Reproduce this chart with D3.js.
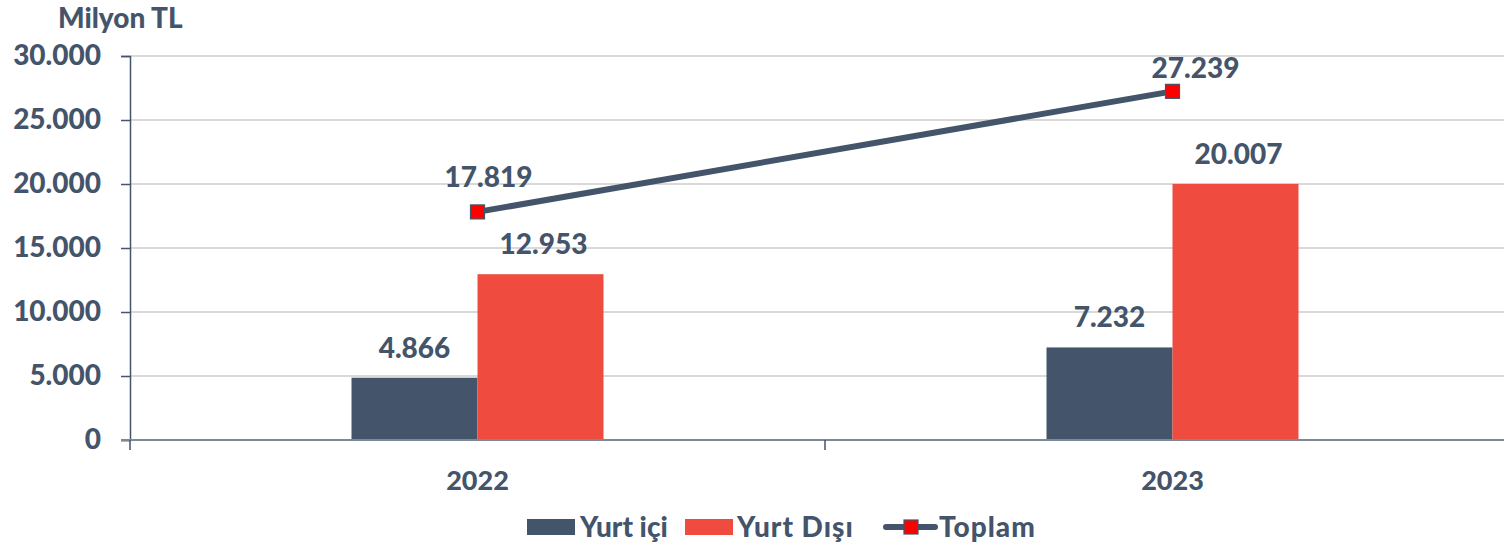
<!DOCTYPE html>
<html>
<head>
<meta charset="utf-8">
<script src="https://cdn.jsdelivr.net/npm/d3@7"></script>
<style>
  body { margin: 0; background: #fff; overflow: hidden; }
  svg text { font-family: Lato, "Open Sans", sans-serif; font-weight: 900; fill: #44546a; }
</style>
</head>
<body>
<div id="chart"></div>
<script>
// chart values
const years = ["2022", "2023"];
const yurtIci = [4866, 7232];
const yurtDisi = [12953, 20007];
const toplam = [17819, 27239];
const yTicks = [0, 5000, 10000, 15000, 20000, 25000, 30000];

const width = 1504, height = 549;
const margin = { top: 56, right: -16, bottom: 109, left: 130 };
const darkColor = "#44546a";
const redColor = "#ef4b3f";
// label nudges for the total line (Excel moved the top one to stay inside)
const totalLabelDx = [11, 23];
const totalLabelDy = [-25, -13];

const fmt = d => d === 0 ? "0" : d3.format(",")(d).replace(/,/g, ".");

const svg = d3.select("#chart")
    .append("svg")
    .attr("width", width)
    .attr("height", height);

const x = d3.scaleBand()
    .domain(years)
    .range([margin.left, width - margin.right]);

const bx = d3.scaleBand()
    .domain(["ici", "disi"])
    .range([0, x.bandwidth()])
    .paddingOuter(1.758);

const y = d3.scaleLinear()
    .domain([0, 30000])
    .range([height - margin.bottom, margin.top]);

// gridlines
svg.append("g")
    .selectAll("line")
    .data(yTicks.filter(d => d > 0))
    .enter().append("line")
    .attr("x1", margin.left)
    .attr("x2", width)
    .attr("y1", d => y(d))
    .attr("y2", d => y(d))
    .attr("stroke", "#d9d9d9")
    .attr("stroke-width", 2);

// y axis
const yAxis = svg.append("g")
    .attr("transform", `translate(${margin.left},0)`)
    .call(d3.axisLeft(y).tickValues(yTicks).tickFormat(fmt).tickSize(9).tickPadding(20));
yAxis.select(".domain").attr("stroke", darkColor).attr("stroke-width", 1.5);
yAxis.selectAll(".tick line").attr("stroke", darkColor).attr("stroke-width", 1.5);
yAxis.selectAll("text").style("font-size", "28px").attr("fill", darkColor);

// bars
const groups = svg.append("g")
    .selectAll("g")
    .data(years)
    .enter().append("g")
    .attr("transform", d => `translate(${x(d)},0)`);

groups.append("rect")
    .attr("x", bx("ici"))
    .attr("width", bx.bandwidth())
    .attr("y", (d, i) => y(yurtIci[i]))
    .attr("height", (d, i) => y(0) - y(yurtIci[i]))
    .attr("fill", darkColor);

groups.append("rect")
    .attr("x", bx("disi"))
    .attr("width", bx.bandwidth())
    .attr("y", (d, i) => y(yurtDisi[i]))
    .attr("height", (d, i) => y(0) - y(yurtDisi[i]))
    .attr("fill", redColor);

groups.append("text")
    .attr("x", bx("ici") + bx.bandwidth() / 2)
    .attr("y", (d, i) => y(yurtIci[i]) - 20)
    .attr("text-anchor", "middle")
    .style("font-size", "28px")
    .text((d, i) => fmt(yurtIci[i]));

groups.append("text")
    .attr("x", bx("disi") + bx.bandwidth() / 2 + 3)
    .attr("y", (d, i) => y(yurtDisi[i]) - 20)
    .attr("text-anchor", "middle")
    .style("font-size", "28px")
    .text((d, i) => fmt(yurtDisi[i]));

// x axis
const xAxis = svg.append("g")
    .attr("transform", `translate(0,${y(0)})`);
xAxis.append("line")
    .attr("x1", margin.left - 9)
    .attr("x2", width)
    .attr("stroke", "#7f8895")
    .attr("stroke-width", 2);
xAxis.selectAll(".sep")
    .data([margin.left, x.range()[0] + x.bandwidth()])
    .enter().append("line")
    .attr("x1", d => d).attr("x2", d => d)
    .attr("y1", 0).attr("y2", 10)
    .attr("stroke", darkColor)
    .attr("stroke-width", 1.5);
xAxis.selectAll(".lbl")
    .data(years)
    .enter().append("text")
    .attr("x", d => x(d) + x.bandwidth() / 2)
    .attr("y", 50)
    .attr("text-anchor", "middle")
    .style("font-size", "27px")
    .text(d => d);

// total line
const line = d3.line()
    .x((d, i) => x(years[i]) + x.bandwidth() / 2)
    .y(d => y(d));

svg.append("path")
    .datum(toplam)
    .attr("d", line)
    .attr("fill", "none")
    .attr("stroke", darkColor)
    .attr("stroke-width", 6);

svg.selectAll(".marker")
    .data(toplam)
    .enter().append("rect")
    .attr("x", (d, i) => x(years[i]) + x.bandwidth() / 2 - 7)
    .attr("y", d => y(d) - 7)
    .attr("width", 14)
    .attr("height", 14)
    .attr("fill", "#ff0000")
    .attr("stroke", darkColor)
    .attr("stroke-width", 1.2);

svg.selectAll(".tlabel")
    .data(toplam)
    .enter().append("text")
    .attr("x", (d, i) => x(years[i]) + x.bandwidth() / 2 + totalLabelDx[i])
    .attr("y", (d, i) => y(d) + totalLabelDy[i])
    .attr("text-anchor", "middle")
    .style("font-size", "28px")
    .text(d => fmt(d));

// title
svg.append("text")
    .attr("x", 58)
    .attr("y", 28)
    .style("font-size", "28px")
    .text("Milyon TL");

// legend
const legend = svg.append("g").attr("transform", "translate(0,527)");
legend.append("rect").attr("x", 527).attr("y", -8).attr("width", 48).attr("height", 16).attr("fill", darkColor);
legend.append("text").attr("x", 580).attr("y", 10).style("font-size", "28px").text("Yurt içi");
legend.append("rect").attr("x", 685).attr("y", -8).attr("width", 48).attr("height", 16).attr("fill", redColor);
legend.append("text").attr("x", 737).attr("y", 10).style("font-size", "28px").attr("letter-spacing", "1px").text("Yurt Dışı");
legend.append("line").attr("x1", 886).attr("x2", 935).attr("y1", 0).attr("y2", 0)
    .attr("stroke", darkColor).attr("stroke-width", 6).attr("stroke-linecap", "round");
legend.append("rect").attr("x", 904).attr("y", -7).attr("width", 14).attr("height", 14)
    .attr("fill", "#ff0000").attr("stroke", darkColor).attr("stroke-width", 1.2);
legend.append("text").attr("x", 939).attr("y", 10).style("font-size", "28px").attr("letter-spacing", "1px").text("Toplam");
</script>
</body>
</html>
